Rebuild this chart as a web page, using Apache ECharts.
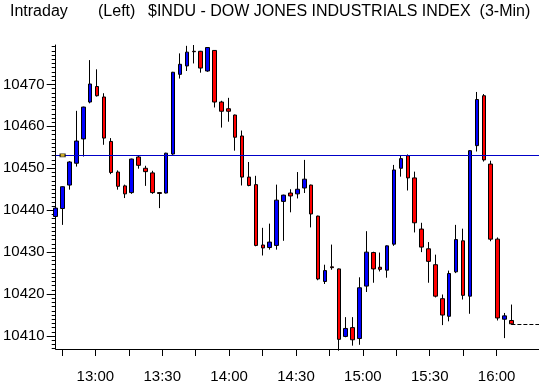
<!DOCTYPE html>
<html><head><meta charset="utf-8">
<script src="https://cdn.jsdelivr.net/npm/echarts@6/dist/echarts.min.js"></script>
<style>html,body{margin:0;padding:0;background:#fff}#c{width:539px;height:384px}</style>
</head><body><div id="c"></div>
<script>
const barTimes = ['12:42','12:45','12:48','12:51','12:54','12:57','13:00','13:03','13:06','13:09','13:12','13:15','13:18','13:21','13:24','13:27','13:30','13:33','13:36','13:39','13:42','13:45','13:48','13:51','13:54','13:57','14:00','14:03','14:06','14:09','14:12','14:15','14:18','14:21','14:24','14:27','14:30','14:33','14:36','14:39','14:42','14:45','14:48','14:51','14:54','14:57','15:00','15:03','15:06','15:09','15:12','15:15','15:18','15:21','15:24','15:27','15:30','15:33','15:36','15:39','15:42','15:45','15:48','15:51','15:54','15:57','16:00'];
const padTimes = ['16:03','16:06','16:09','16:12'];
const opens  = [10438.5,10440.4,10446.0,10451.2,10457.0,10465.8,10469.5,10467.0,10456.4,10449.1,10445.8,10444.2,10452.7,10450.0,10448.9,10444.2,10444.1,10453.4,10472.4,10474.4,10477.9,10477.9,10473.2,10478.1,10465.8,10464.2,10462.7,10457.7,10447.9,10446.1,10431.7,10431.1,10431.6,10442.1,10444.1,10443.9,10445.3,10446.0,10438.6,10423.0,10426.5,10426.0,10409.9,10412.0,10409.4,10421.9,10429.9,10426.4,10425.7,10431.9,10450.0,10453.0,10447.7,10435.5,10430.8,10427.0,10418.9,10414.7,10425.3,10432.7,10419.5,10455.4,10467.3,10451.0,10433.1,10414.0,10413.7];
const closes = [10440.5,10445.6,10451.5,10456.5,10464.6,10470.1,10467.3,10457.2,10449.0,10445.7,10443.9,10452.2,10450.7,10449.2,10444.2,10444.0,10453.6,10472.9,10474.8,10477.7,10477.8,10473.9,10478.8,10465.8,10463.6,10463.6,10457.4,10447.9,10445.9,10431.6,10431.0,10432.4,10442.4,10443.6,10443.4,10445.0,10447.4,10439.1,10423.6,10425.6,10426.3,10409.2,10411.8,10409.1,10421.5,10430.0,10426.0,10425.9,10431.5,10449.6,10452.3,10447.7,10437.0,10431.2,10427.8,10419.5,10415.0,10424.9,10433.0,10419.7,10454.2,10466.4,10452.0,10433.1,10414.3,10414.8,10412.9];
const lows   = [10437.3,10436.5,10444.9,10450.4,10452.8,10465.5,10467.1,10455.6,10448.6,10444.9,10442.9,10443.9,10449.9,10445.8,10443.9,10440.5,10444.0,10453.2,10471.4,10473.2,10475.0,10472.8,10473.0,10464.5,10459.7,10461.1,10454.2,10445.9,10445.7,10431.4,10429.2,10430.6,10430.6,10432.7,10439.5,10442.8,10444.1,10435.9,10423.3,10422.4,10425.8,10406.5,10409.7,10407.7,10407.9,10420.5,10422.7,10425.4,10423.9,10431.5,10448.0,10444.7,10434.7,10430.0,10422.7,10419.2,10412.6,10413.5,10425.0,10418.7,10415.3,10454.0,10451.6,10432.6,10413.7,10409.5,10412.7];
const highs  = [10440.9,10445.7,10451.7,10463.7,10464.7,10475.8,10473.6,10467.9,10457.2,10449.5,10446.1,10452.3,10453.0,10450.6,10449.4,10444.3,10453.7,10473.0,10477.4,10479.2,10479.4,10478.0,10478.9,10478.2,10466.1,10466.8,10462.8,10459.0,10451.5,10448.2,10435.8,10436.8,10446.1,10443.7,10445.0,10449.1,10452.0,10446.1,10438.7,10427.0,10431.8,10426.1,10414.5,10414.5,10424.0,10435.0,10430.1,10429.9,10431.6,10450.8,10453.1,10453.3,10449.2,10437.0,10432.4,10429.4,10419.9,10425.6,10436.5,10435.6,10454.3,10468.2,10467.7,10451.8,10433.5,10415.5,10417.5];
const prevClose = 10453.1;
const markerTime = '12:45';
const yMajorTicks = [10410,10420,10430,10440,10450,10460,10470];
const yMinorTicks = [10407,10408,10409,10410,10411,10412,10413,10414,10415,10416,10417,10418,10419,10420,10421,10422,10423,10424,10425,10426,10427,10428,10429,10430,10431,10432,10433,10434,10435,10436,10437,10438,10439,10440,10441,10442,10443,10444,10445,10446,10447,10448,10449,10450,10451,10452,10453,10454,10455,10456,10457,10458,10459,10460,10461,10462,10463,10464,10465,10466,10467,10468,10469,10470,10471,10472,10473,10474,10475,10476,10477,10478,10479];
const xTickTimes = ['12:45','13:00','13:15','13:30','13:45','14:00','14:15','14:30','14:45','15:00','15:15','15:30','15:45','16:00'];
const xLabelTimes = ['13:00','13:30','14:00','14:30','15:00','15:30','16:00'];
const titleParts = ['Intraday','(Left)','$INDU - DOW JONES INDUSTRIALS INDEX  (3-Min)'];

const toMin = s => { const p = s.split(':'); return (+p[0]) * 60 + (+p[1]); };
const fmtMin = v => { const h = Math.floor(v / 60), m = Math.round(v - h * 60); return h + ':' + (m < 10 ? '0' : '') + m; };
const categories = barTimes.concat(padTimes);
const ohlc = opens.map((o, i) => [o, closes[i], lows[i], highs[i]]);
const lastClose = closes[closes.length - 1];

const axisFont = { fontFamily: '"Liberation Sans Narrow", "Liberation Sans", sans-serif', fontSize: 15, color: '#000' };
const titleFont = '16px "Liberation Sans", sans-serif';

const chart = echarts.init(document.getElementById('c'), null, { renderer: 'canvas' });
chart.setOption({
  animation: false,
  backgroundColor: '#fff',
  graphic: [
    { type: 'text', x: 10, y: 12, style: { text: titleParts[0], font: titleFont, fill: '#000', verticalAlign: 'middle' } },
    { type: 'text', x: 98, y: 12, style: { text: titleParts[1], font: titleFont, fill: '#000', verticalAlign: 'middle' } },
    { type: 'text', x: 148, y: 12, style: { text: titleParts[2], font: titleFont, fill: '#000', verticalAlign: 'middle' } }
  ],
  grid: { left: 51, top: 45, width: 490, height: 304, containLabel: false },
  xAxis: [
    { type: 'category', data: categories, boundaryGap: false, position: 'bottom',
      axisLine: { show: true, lineStyle: { color: '#000', width: 1 } },
      axisTick: { show: false }, axisLabel: { show: false }, splitLine: { show: false } },
    { type: 'value', position: 'bottom', min: 762.21, max: 979.02,
      axisLine: { show: false }, splitLine: { show: false },
      axisTick: { show: true, length: 7, inside: false, customValues: xTickTimes.map(toMin), lineStyle: { color: '#000', width: 1 } },
      axisLabel: { show: true, customValues: xLabelTimes.map(toMin), formatter: v => fmtMin(v), margin: 20, ...axisFont } }
  ],
  yAxis: [
    { type: 'value', position: 'left', min: 10406.9, max: 10479.4, scale: true,
      axisLine: { show: true, lineStyle: { color: '#000', width: 1 } },
      splitLine: { show: false },
      axisTick: { show: true, length: 9, customValues: yMajorTicks, lineStyle: { color: '#000', width: 1 } },
      axisLabel: { show: true, customValues: yMajorTicks, margin: 11, formatter: v => String(v), ...axisFont } },
    { type: 'value', position: 'left', min: 10406.9, max: 10479.4, scale: true,
      axisLine: { show: false }, splitLine: { show: false },
      axisTick: { show: true, length: 4, customValues: yMinorTicks, lineStyle: { color: '#000', width: 1 } },
      axisLabel: { show: false } }
  ],
  series: [
    { type: 'candlestick', xAxisIndex: 0, yAxisIndex: 0, data: ohlc, barWidth: 4, clip: true,
      itemStyle: { color: '#0000ff', color0: '#ff0000', borderColor: '#000', borderColor0: '#000', borderColorDoji: '#000', borderWidth: 1 },
      markLine: { silent: true, symbol: ['none', 'none'], label: { show: false }, animation: false,
        data: [
          { yAxis: prevClose, lineStyle: { color: '#0000c8', width: 1, type: 'solid' } },
          [ { coord: [barTimes[barTimes.length - 1], lastClose] }, { coord: [padTimes[padTimes.length - 1], lastClose] } ]
        ],
        lineStyle: { color: '#000', width: 1, type: [4, 2] } } },
    { type: 'scatter', xAxisIndex: 0, yAxisIndex: 0, data: [[markerTime, prevClose]], symbol: 'rect', symbolSize: [5, 3],
      itemStyle: { color: '#ffd200', borderColor: '#000', borderWidth: 1 }, silent: true, z: 5 }
  ]
});
</script></body></html>
